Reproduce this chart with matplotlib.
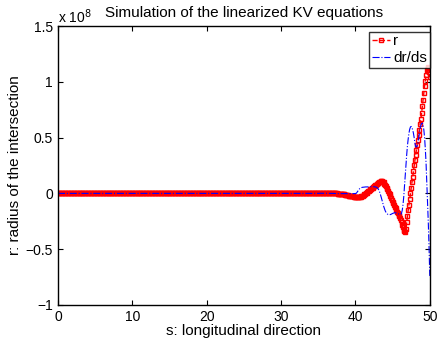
import numpy as np
import matplotlib
matplotlib.use("Agg")
import matplotlib.pyplot as plt

plt.rcParams['font.family'] = ['Liberation Sans', 'DejaVu Sans']
plt.rcParams['axes.unicode_minus'] = True

# values in units of 1e8, sampled every 0.1 along s
s_flat = np.round(np.arange(0.0, 34.05, 0.1), 1)
r_flat = np.zeros(len(s_flat))      # r stays at 0 up to s = 34
drds_flat = np.zeros(len(s_flat))

s_tail = np.round(np.arange(34.1, 50.05, 0.1), 1)
r_tail = [
    0.001, 0.001, 0.001, 0.001, 0.001, 0.001, 0.001, 0.001, 0.001, 0.001,
    0.002, 0.002, 0.003, 0.003, 0.003, 0.004, 0.004, 0.004, 0.005, 0.005,
    0.005, 0.005, 0.006, 0.006, 0.006, 0.006, 0.006, 0.005, 0.005, 0.004,
    0.003, 0.002, 0.001, 0.000, -0.001, -0.002, -0.003, -0.004, -0.004, -0.005,
    -0.006, -0.007, -0.008, -0.009, -0.010, -0.012, -0.013, -0.015, -0.016, -0.018,
    -0.019, -0.020, -0.022, -0.023, -0.024, -0.026, -0.027, -0.028, -0.029, -0.030,
    -0.032, -0.033, -0.034, -0.034, -0.033, -0.031, -0.029, -0.026, -0.023, -0.019,
    -0.014, -0.009, -0.004, 0.002, 0.007, 0.013, 0.018, 0.024, 0.029, 0.035,
    0.040, 0.046, 0.051, 0.057, 0.062, 0.068, 0.073, 0.079, 0.084, 0.090,
    0.095, 0.100, 0.104, 0.108, 0.110, 0.109, 0.105, 0.098, 0.088, 0.076,
    0.063, 0.050, 0.036, 0.021, 0.006, -0.009, -0.025, -0.041, -0.057, -0.073,
    -0.088, -0.104, -0.119, -0.134, -0.149, -0.164, -0.179, -0.193, -0.207, -0.221,
    -0.235, -0.256, -0.280, -0.305, -0.325, -0.338, -0.343, -0.320, -0.260, -0.200,
    -0.150, -0.100, -0.050, 0.000, 0.050, 0.100, 0.150, 0.200, 0.250, 0.300,
    0.345, 0.390, 0.435, 0.480, 0.525, 0.570, 0.620, 0.670, 0.720, 0.780,
    0.840, 0.900, 0.960, 1.010, 1.060, 1.110, 1.130, 1.120, 1.090, 1.040,
]
drds_tail = [
    0.000, 0.000, 0.000, 0.000, 0.000, 0.000, 0.000, 0.000, 0.000, 0.000,
    0.001, 0.001, 0.001, 0.001, 0.001, 0.001, 0.001, 0.001, 0.001, 0.001,
    0.001, 0.001, 0.001, 0.000, 0.000, 0.000, 0.000, 0.000, 0.000, 0.000,
    -0.001, -0.001, -0.001, -0.001, -0.001, -0.002, -0.002, -0.002, -0.002, -0.002,
    -0.002, -0.002, -0.002, -0.002, -0.002, -0.002, -0.002, -0.002, -0.002, -0.002,
    -0.002, -0.002, -0.002, -0.002, -0.002, -0.002, -0.002, -0.002, -0.001, -0.001,
    0.000, 0.008, 0.018, 0.028, 0.037, 0.044, 0.049, 0.052, 0.054, 0.055,
    0.056, 0.057, 0.057, 0.058, 0.058, 0.058, 0.059, 0.059, 0.059, 0.060,
    0.060, 0.060, 0.060, 0.060, 0.060, 0.059, 0.058, 0.056, 0.052, 0.046,
    0.036, 0.022, 0.004, -0.018, -0.042, -0.068, -0.093, -0.116, -0.137, -0.155,
    -0.168, -0.178, -0.185, -0.190, -0.192, -0.192, -0.190, -0.187, -0.183, -0.180,
    -0.177, -0.175, -0.174, -0.174, -0.175, -0.177, -0.180, -0.184, -0.188, -0.190,
    -0.188, -0.178, -0.150, -0.100, -0.030, 0.060, 0.160, 0.260, 0.350, 0.430,
    0.490, 0.540, 0.575, 0.595, 0.600, 0.590, 0.570, 0.540, 0.500, 0.450,
    0.420, 0.415, 0.425, 0.450, 0.490, 0.540, 0.580, 0.610, 0.625, 0.630,
    0.610, 0.570, 0.500, 0.400, 0.270, 0.100, -0.070, -0.260, -0.480, -0.740,
]

s = np.concatenate([s_flat, s_tail])
r = np.concatenate([r_flat, r_tail])
drds = np.concatenate([drds_flat, drds_tail])

yticks = [-1, -0.5, 0, 0.5, 1, 1.5]
ytick_labels = ['\u22121', '\u22120.5', '0', '0.5', '1', '1.5']
xticks = [0, 10, 20, 30, 40, 50]

fig = plt.figure(figsize=(4.39, 3.43), dpi=100)
ax = fig.add_axes([0.132, 0.111, 0.847, 0.813])

ax.plot(s, r, '--', color='red', lw=1, marker='s', ms=3, mfc='none',
        mec='red', mew=1, label='r')
ax.plot(s, drds, '-.', color='blue', lw=0.8, label='dr/ds')

ax.set_xlim(0, 50)
ax.set_ylim(-1, 1.5)
ax.set_xticks(xticks)
ax.set_yticks(yticks)
ax.set_yticklabels(ytick_labels)
ax.tick_params(direction='in', top=True, right=True, length=3.5, labelsize=10, pad=3.5)
for sp in ax.spines.values():
    sp.set_linewidth(1)

ax.text(0, 1.0, r'x 10$^{8}$', transform=ax.transAxes, ha='left', va='bottom', fontsize=10)
ax.set_title('Simulation of the linearized KV equations', fontsize=11, pad=6.5)
ax.set_xlabel('s: longitudinal direction', fontsize=11, labelpad=0)
ax.set_ylabel('r: radius of the intersection', fontsize=11, labelpad=3)

leg = ax.legend(loc='upper right', bbox_to_anchor=(1.0, 0.98), fontsize=11,
                frameon=True, fancybox=False, edgecolor='black',
                handlelength=1.2, handletextpad=0.2, borderpad=0.18,
                labelspacing=0.18, borderaxespad=0)
leg.get_frame().set_linewidth(1)

fig.savefig('out.png', dpi=100)
